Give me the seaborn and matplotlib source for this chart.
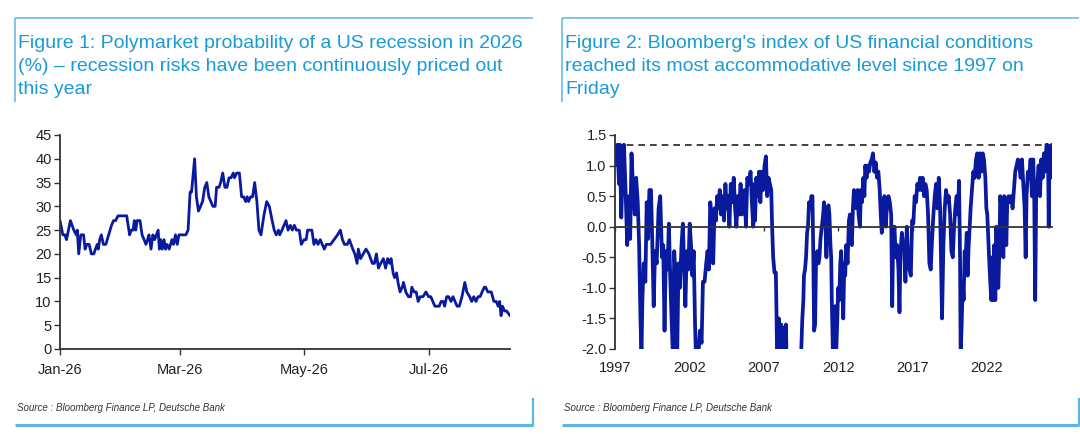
import numpy as np
import pandas as pd
import matplotlib
matplotlib.use('Agg')
import matplotlib.pyplot as plt
import matplotlib.dates as mdates
import seaborn as sns
from matplotlib.lines import Line2D
from matplotlib import font_manager

# Figure 1: Polymarket probability (days since 1 Jan 2026, %)
left_days = [0, 1.4, 2.4, 3.2, 5.1, 6.8, 8.0, 8.5, 9.2, 10.2, 11.6, 12.3, 13.2, 14.3, 15.4, 16.6, 17.4, 18.3, 18.8, 19.5,
             20.3, 21.3, 22.5, 23.9, 25.3, 26.3, 27.3, 28.5, 32.8, 33.1, 34.2, 35.0, 35.9, 36.5, 37.2, 37.9, 39.3, 40.3, 41.3, 42.2,
             43.0, 43.7, 44.7, 45.6, 46.5, 48.2, 48.8, 49.5, 50.2, 51.1, 51.8, 52.6, 53.6, 55.0, 55.8, 56.7, 57.6, 58.4, 61.8, 62.9,
             63.9, 64.6, 66.1, 67.0, 68.0, 69.0, 70.0, 71.1, 72.1, 73.1, 74.1, 75.1, 76.2, 76.9, 78.1, 78.9, 79.9, 81.0, 82.0, 83.0,
             84.0, 85.1, 85.7, 86.8, 88.1, 89.2, 90.2, 91.2, 91.9, 92.6, 93.6, 94.6, 95.6, 96.7, 97.7, 98.7, 100.1, 101.5, 102.8, 104.2,
             105.2, 106.2, 107.3, 107.9, 109.0, 110.0, 111.0, 112.0, 113.1, 114.1, 115.1, 116.1, 117.5, 118.5, 119.9, 120.9, 121.6, 123.7, 124.7, 125.7,
             126.7, 127.8, 128.8, 129.8, 130.8, 132.9, 134.6, 136.3, 137.7, 138.7, 139.7, 141.1, 142.1, 143.8, 144.8, 145.9, 146.5, 147.6, 148.9, 150.3,
             151.7, 153.4, 154.4, 155.4, 156.4, 157.5, 158.8, 159.9, 160.9, 161.9, 162.6, 163.6, 164.3, 165.3, 166.0, 167.0, 168.1, 168.7, 169.8, 171.1,
             172.2, 172.8, 173.9, 174.9, 175.9, 176.9, 178.3, 179.7, 181.0, 182.1, 183.1, 184.1, 186.2, 187.2, 188.2, 188.9, 189.9, 190.9, 192.0, 193.0,
             194.0, 195.0, 196.1, 197.4, 198.8, 199.8, 201.2, 202.2, 203.2, 204.3, 205.3, 206.3, 207.3, 208.4, 209.0, 210.1, 211.8, 213.1, 214.2, 215.2,
             215.9, 216.6, 217.3, 218.3, 219.3, 221.0]
left_vals = [27, 24, 24, 23, 27, 25, 24, 25, 20, 24, 24, 21, 22, 22, 20, 20, 21, 22, 21, 23,
             24, 22, 22, 24, 26, 27, 27, 28, 28, 27, 24, 25, 25, 27, 25, 27, 27, 24, 23, 22,
             23, 24, 21, 24, 23, 25, 21, 23, 21, 23, 21, 22, 21, 23, 22, 24, 22, 24, 24, 25,
             33, 33, 40, 32, 29, 30, 31, 34, 35, 32, 31, 30, 30, 34, 34, 35, 37, 34, 34, 36,
             36, 37, 36, 37, 37, 32, 32, 31, 32, 31, 32, 32, 35, 31, 25, 24, 28, 31, 30, 27,
             25, 24, 25, 24, 25, 26, 27, 25, 26, 25, 26, 25, 25, 22, 23, 23, 25, 25, 22, 23,
             22, 23, 22, 21, 22, 22, 23, 24, 25, 23, 22, 22, 23, 21, 20, 18, 21, 19, 20, 21,
             20, 18, 18, 20, 17, 18, 19, 17, 19, 18, 19, 16, 15, 16, 14, 12, 13, 14, 12, 11,
             11, 13, 12, 12, 10, 11, 11, 12, 11, 11, 10, 9, 9, 10, 10, 9, 11, 11, 10, 11,
             10, 9, 9, 11, 14, 12, 11, 10, 11, 10, 11, 11, 12, 13, 13, 12, 12, 10, 10, 9,
             10, 7, 9, 8, 8, 7]
left_ticks = ['2026-01-01', '2026-03-01', '2026-05-01', '2026-07-01']

# Figure 2: Bloomberg US financial conditions index (decimal year, index)
right_years = [1997.00, 1997.16, 1997.27, 1997.33, 1997.42, 1997.53, 1997.60, 1997.71, 1997.82, 1997.93,
               1998.02, 1998.11, 1998.22, 1998.33, 1998.42, 1998.53, 1998.62, 1998.71, 1998.78, 1998.84,
               1998.93, 1999.04, 1999.13, 1999.22, 1999.31, 1999.42, 1999.51, 1999.60, 1999.69, 1999.80,
               1999.93, 2000.04, 2000.16, 2000.24, 2000.33, 2000.42, 2000.53, 2000.62, 2000.71, 2000.80,
               2000.89, 2000.98, 2001.09, 2001.18, 2001.27, 2001.36, 2001.47, 2001.56, 2001.64, 2001.73,
               2001.82, 2001.93, 2002.02, 2002.11, 2002.20, 2002.29, 2002.38, 2002.44, 2002.60, 2002.71,
               2002.82, 2002.91, 2003.02, 2003.13, 2003.22, 2003.31, 2003.40, 2003.49, 2003.60, 2003.69,
               2003.78, 2003.87, 2003.96, 2004.04, 2004.13, 2004.22, 2004.33, 2004.42, 2004.51, 2004.60,
               2004.69, 2004.78, 2004.87, 2004.98, 2005.07, 2005.16, 2005.24, 2005.33, 2005.44, 2005.53,
               2005.62, 2005.71, 2005.80, 2005.89, 2006.00, 2006.11, 2006.20, 2006.29, 2006.38,
               2006.41, 2006.50, 2006.59, 2006.68, 2006.77, 2006.86, 2006.95, 2007.05, 2007.14, 2007.23,
               2007.32, 2007.41, 2007.50, 2007.56, 2007.63, 2007.72, 2007.81, 2007.86, 2007.90, 2008.01,
               2008.08, 2008.17, 2008.26, 2008.35, 2008.42, 2008.49, 2008.55, 2008.80, 2009.14, 2009.43,
               2009.52, 2009.59, 2009.66, 2009.70, 2009.77, 2009.84, 2009.91, 2009.97, 2010.04, 2010.11,
               2010.20, 2010.27, 2010.33, 2010.38, 2010.45, 2010.51, 2010.60, 2010.67, 2010.74, 2010.81,
               2010.90, 2010.99, 2011.05, 2011.14, 2011.21, 2011.28, 2011.35, 2011.41, 2011.48, 2011.53,
               2011.57, 2011.64, 2011.73, 2011.80, 2011.86, 2011.93, 2012.00, 2012.07, 2012.14, 2012.20,
               2012.27, 2012.34, 2012.41, 2012.47, 2012.54, 2012.63, 2012.72, 2012.79, 2012.86, 2012.92,
               2012.99, 2013.06, 2013.15, 2013.22, 2013.31, 2013.37, 2013.46, 2013.53, 2013.60, 2013.69,
               2013.76, 2013.82, 2013.91, 2013.98, 2014.07, 2014.16, 2014.25, 2014.34, 2014.43, 2014.52,
               2014.61, 2014.70, 2014.79, 2014.86, 2014.93, 2015.02, 2015.11, 2015.20, 2015.29, 2015.38,
               2015.47, 2015.56, 2015.63, 2015.69, 2015.78, 2015.87, 2015.96, 2016.05, 2016.12, 2016.19,
               2016.28, 2016.37,
               2016.43, 2016.52, 2016.61, 2016.70, 2016.79, 2016.88, 2016.97, 2017.05, 2017.14, 2017.23,
               2017.32, 2017.41, 2017.50, 2017.59, 2017.68, 2017.77, 2017.86, 2017.95, 2018.04, 2018.13,
               2018.22, 2018.31, 2018.40, 2018.49, 2018.58, 2018.67, 2018.76, 2018.85, 2018.91, 2018.98,
               2019.07, 2019.16, 2019.25, 2019.34, 2019.43, 2019.52, 2019.61, 2019.70, 2019.79, 2019.87,
               2019.96, 2020.05, 2020.12, 2020.19, 2020.23, 2020.30, 2020.37, 2020.43, 2020.50, 2020.57,
               2020.64, 2020.70, 2020.77, 2020.84, 2020.90, 2020.99, 2021.08, 2021.17, 2021.26, 2021.35,
               2021.44, 2021.53, 2021.62, 2021.71, 2021.80, 2021.89, 2021.96, 2022.02, 2022.09, 2022.16,
               2022.22, 2022.29, 2022.36, 2022.43, 2022.49, 2022.56, 2022.63, 2022.69, 2022.76, 2022.83,
               2022.89, 2022.96, 2023.03, 2023.10, 2023.16, 2023.23, 2023.30, 2023.36, 2023.45, 2023.54,
               2023.63, 2023.72, 2023.81, 2023.90, 2023.99, 2024.08, 2024.17, 2024.26, 2024.35, 2024.44,
               2024.53, 2024.60, 2024.66, 2024.75, 2024.84, 2024.93, 2025.02, 2025.11, 2025.18, 2025.24,
               2025.31, 2025.38, 2025.47, 2025.56, 2025.65, 2025.74, 2025.83, 2025.91, 2026.00, 2026.05,
               2026.10, 2026.15, 2026.20, 2026.27, 2026.31, 2026.35]
right_vals = [1.0, 1.34, 0.7, 1.34, 0.15, 1.0, 1.34, 0.6, -0.3, 0.5,
              -0.2, 1.2, 0.6, 0.2, 0.8, 0.4, -0.3, -1.5, -2.1, -1.2,
              -0.6, -0.9, 0.4, -0.2, 0.6, 0.6, -0.3, -1.3, -0.4, -0.6,
              0.3, 0.5, -0.5, -0.3, -1.7, -0.4, -0.7, 0.05, -0.8, -1.5,
              -2.1, -0.4, -0.9, -2.1, -0.6, -1.0, -0.3, 0.05, -0.6, -1.3,
              -0.4, -0.7, 0.05, -0.3, -0.8, -0.4, -1.6, -2.1, -2.1, -1.7,
              -1.9, -0.9, -0.9, -0.6, -0.4, -0.7, 0.4, 0.2, -0.6, 0.3,
              0.1, 0.5, 0.3, 0.6, 0.2, 0.5, 0.1, 0.7, 0.3, 0.5,
              0.0, 0.7, 0.4, 0.8, 0.3, 0.0, 0.5, 0.2, 0.7, 0.2,
              0.3, 0.6, 0.0, 0.8, 0.7, 0.9, 0.4, 0.0, 0.7,
              0.1, 0.8, 0.5, 0.9, 0.4, 0.9, 0.6, 1.0, 1.15, 0.5,
              0.8, 0.7, 0.6, 0.0, -0.5, -0.75, -0.75, -1.5, -2.3, -1.5,
              -2.3, -1.6, -2.3, -1.65, -2.2, -1.6, -2.5, -3.5, -3.5, -2.5,
              -2.0, -1.5, -1.2, -0.8, -0.7, -0.5, -0.1, 0.0, 0.4, 0.3,
              0.5, 0.5, -0.5, -1.7, -1.6, -0.6, -0.4, -0.6, -0.5, -0.2,
              0.0, 0.2, 0.4, 0.1, -0.5, 0.3, 0.35, 0.2, -0.3, -0.5,
              -1.2, -2.0, -2.0, -1.3, -2.1, -1.6, -1.0, -1.2, -0.6, -0.4,
              -0.9, -1.5, -0.6, -0.8, -0.3, -0.6, 0.1, 0.2, -0.2, -0.3,
              0.3, 0.6, 0.55, 0.3, 0.6, 0.2, 0.0, 0.6, 0.4, 0.8,
              0.5, 1.0, 0.8, 1.0, 0.9, 1.05, 1.1, 1.2, 0.9, 1.05,
              0.8, 0.9, 0.6, 0.2, -0.1, 0.4, 0.5, 0.0, 0.4, 0.5,
              0.4, 0.2, -1.3, -0.3, 0.0, -0.5, -0.3, -0.7, -1.4, -0.4,
              -0.1, -0.3,
              -0.3, -0.9, 0.0, -0.5, -0.7, -0.8, 0.1, 0.05, 0.5, 0.4,
              0.7, 0.6, 0.8, 0.6, 0.8, 0.5, 0.7, 0.6, 0.2, -0.6,
              -0.7, -0.2, 0.2, 0.5, 0.7, 0.3, 0.8, 0.3, -0.5, -1.5,
              -0.3, 0.3, 0.6, 0.4, 0.5, 0.2, -0.4, -0.5, 0.0, 0.3,
              0.5, 0.2, 0.75, -0.5, -2.1, -1.6, -0.9, -1.2, -0.4, -0.5,
              -0.1, -0.8, -0.3, 0.0, 0.3, 0.6, 0.9, 0.8, 1.1, 1.2,
              0.8, 1.2, 0.9, 1.2, 1.1, 0.8, 0.3, 0.2, -0.2, -0.6,
              -0.9, -1.2, -0.5, -1.2, -0.3, -1.2, 0.0, -0.6, -1.0, -0.4,
              0.5, 0.3, -0.1, -0.5, 0.5, 0.0, -0.3, 0.4, 0.5, 0.4,
              0.5, 0.3, 0.6, 0.9, 1.0, 1.1, 1.0, 0.8, 1.1, 0.7,
              0.3, -0.5, 0.5, 0.9, 0.8, 1.1, 0.5, 1.1, 0.4, -1.2,
              0.6, 0.7, 1.0, 0.5, 1.1, 0.8, 1.2, 0.9, 1.34, 1.34,
              1.3, 0.0, 1.2, 0.8, 1.25, 1.34]
right_ticks = [1997, 2002, 2007, 2012, 2017, 2022]
right_max_level = 1.34

title1 = "Figure 1: Polymarket probability of a US recession in 2026\n(%) \u2013 recession risks have been continuously priced out\nthis year"
title2 = "Figure 2: Bloomberg's index of US financial conditions\nreached its most accommodative level since 1997 on\nFriday"
source = "Source : Bloomberg Finance LP, Deutsche Bank"

assert len(left_days) == len(left_vals)
assert len(right_years) == len(right_vals)

LINE = '#0a1a9e'
TITLE = '#1a9ad6'
FRAME = '#5ab6e4'

sns.set_theme(style='white')
installed = {f.name for f in font_manager.fontManager.ttflist}
narrow = 'Liberation Sans Narrow' if 'Liberation Sans Narrow' in installed else 'Liberation Sans'
plt.rcParams['font.family'] = ['Liberation Sans', 'DejaVu Sans']

W, H = 1080, 434
fig = plt.figure(figsize=(W / 100, H / 100), dpi=100)


def fx(px):
    return px / W


def fy(py):
    return 1 - py / H


def frame_line(x0, y0, x1, y1, lw):
    fig.add_artist(Line2D([fx(x0), fx(x1)], [fy(y0), fy(y1)], transform=fig.transFigure,
                          color=FRAME, lw=lw, solid_capstyle='butt'))


# 패널 테두리
for x0, x1 in [(15, 533), (562, 1079)]:
    frame_line(x0, 18, x1, 18, 1.1)
    frame_line(x0, 18, x0, 102, 1.1)
    frame_line(x0, 425, x1, 425, 2.2)
    frame_line(x1, 398, x1, 426, 1.6)

fig.text(fx(18), fy(35), title1, va='top', ha='left', color=TITLE, fontsize=14,
         family=[narrow, 'DejaVu Sans'], linespacing=1.45)
fig.text(fx(565), fy(35), title2, va='top', ha='left', color=TITLE, fontsize=14,
         family=[narrow, 'DejaVu Sans'], linespacing=1.45)
for x in (17, 564):
    fig.text(fx(x), fy(408), source, va='center', ha='left', color='#333333', fontsize=7,
             style='italic', family=[narrow, 'DejaVu Sans'])

# ---- Figure 1 ----
ax1 = fig.add_axes([fx(60), fy(349), fx(450), 214 / H])
df1 = pd.DataFrame({'date': pd.Timestamp('2026-01-01') + pd.to_timedelta(left_days, unit='D'),
                    'prob': left_vals})
sns.lineplot(data=df1, x='date', y='prob', ax=ax1, color=LINE, lw=2.0)
ax1.set_xlim(pd.Timestamp('2026-01-01'), pd.Timestamp('2026-08-10'))
ax1.set_ylim(0, 45)
ax1.set_yticks(range(0, 46, 5))
ax1.set_xticks(pd.to_datetime(left_ticks))
ax1.xaxis.set_major_formatter(mdates.DateFormatter('%b-%y'))
ax1.set_xlabel('')
ax1.set_ylabel('')

# ---- Figure 2 ----
ax2 = fig.add_axes([fx(615), fy(349), fx(437), 214 / H])
df2 = pd.DataFrame({'year': right_years, 'fci': right_vals})
sns.lineplot(data=df2, x='year', y='fci', ax=ax2, color=LINE, lw=2.7, sort=False)
ax2.axhline(right_max_level, color='#222222', lw=1.2, ls=(0, (4, 3)), zorder=1)
ax2.set_xlim(1997.0, 2026.37)
ax2.set_ylim(-2.0, 1.5)
ax2.set_yticks(np.arange(-2.0, 1.51, 0.5))
ax2.yaxis.set_major_formatter(matplotlib.ticker.FormatStrFormatter('%.1f'))
ax2.set_xticks(right_ticks)
ax2.set_xlabel('')
ax2.set_ylabel('')
# x축은 0선에서 교차, 라벨은 아래쪽
ax2.spines['bottom'].set_position(('data', 0))
ax2.tick_params(axis='x', labelbottom=False, bottom=True, length=3, width=1, color='#333333', direction='out')
sec = ax2.secondary_xaxis('bottom')
sec.set_xticks(right_ticks)
sec.spines['bottom'].set_visible(False)
sec.tick_params(length=0, labelsize=10.5, pad=9, labelcolor='#222222')

for ax in (ax1, ax2):
    for s in ('top', 'right'):
        ax.spines[s].set_visible(False)
    for s in ('left', 'bottom'):
        ax.spines[s].set_color('#333333')
        ax.spines[s].set_linewidth(1.3)
    ax.tick_params(axis='y', left=True, length=4, width=1, color='#333333', labelsize=10.5,
                   labelcolor='#222222', pad=2)
    ax.grid(False)
ax1.tick_params(axis='x', bottom=True, length=4, width=1, color='#333333', labelsize=10.5,
                labelcolor='#222222', pad=6)

fig.savefig('out.png', dpi=100)
